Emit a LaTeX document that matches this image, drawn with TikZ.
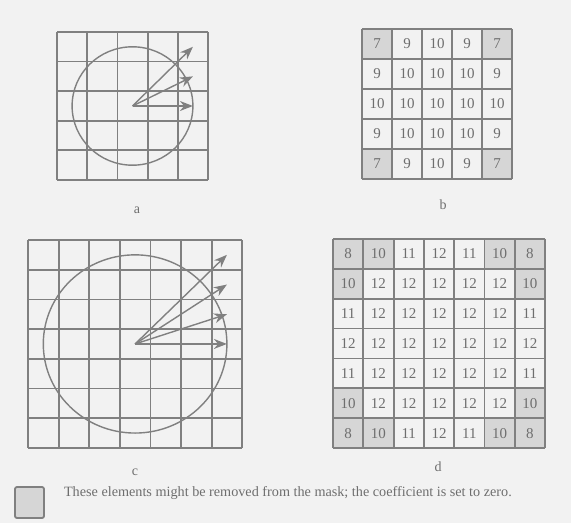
\documentclass[tikz,border=0pt]{standalone}
\usepackage{fontspec}
\setmainfont{Liberation Serif}
\usetikzlibrary{arrows.meta}

\definecolor{paper}{RGB}{242,242,242}
\definecolor{gridgray}{RGB}{128,128,128}
\definecolor{maskgray}{RGB}{214,214,214}
\definecolor{inkgray}{RGB}{110,110,110}

\tikzset{
  gridline/.style={draw=gridgray, line width=0.9pt},
  circline/.style={draw=gridgray, line width=0.7pt},
  vec/.style={draw=gridgray, line width=0.7pt, -{Stealth[length=6.5pt,width=5pt]}},
  masked/.style={fill=maskgray},
  val/.style={text=inkgray, font=\fontsize{7.5}{9}\selectfont},
  panel/.style={text=inkgray, font=\fontsize{7}{8}\selectfont},
}

\begin{document}
\begin{tikzpicture}[x=0.5pt,y=-0.5pt]

\fill[paper] (0,0) rectangle (571,523);
\useasboundingbox (0,0) rectangle (571,523);

% a: 5x5 mask with circle
\begin{scope}[shift={(57,32)}, x=15.1pt, y=-14.8pt]
\foreach \i in {0,...,5} {
    \draw[gridline] (\i,0) -- (\i,5);
    \draw[gridline] (0,\i) -- (5,\i);
}
\coordinate (ac) at (2.5,2.5);
\draw[circline] (ac) circle[radius=2];
\foreach \k in {0,1,2} {
    \coordinate (ae\k) at (4.5,{2.5-\k});
    \draw[vec] (ac) -- (ae\k);
}
\end{scope}
\node[panel] (la) at (137,210) {a};

% b: 5x5 coefficients
\begin{scope}[shift={(362,29)}, x=15pt, y=-15pt]
\foreach \c/\r in {0/0, 4/0, 0/4, 4/4}
    \fill[masked] (\c,\r) rectangle ++(1,1);
\foreach \i in {0,...,5} {
    \draw[gridline] (\i,0) -- (\i,5);
    \draw[gridline] (0,\i) -- (5,\i);
}
\foreach \row [count=\r from 0] in {{7,9,10,9,7},{9,10,10,10,9},{10,10,10,10,10},{9,10,10,10,9},{7,9,10,9,7}} {
    \foreach \v [count=\c from 0] in \row
        \node[val] (b\r\c) at (\c+0.5,\r+0.5) {\v};
}
\end{scope}
\node[panel] (lb) at (443,205) {b};

% c: 7x7 mask with circle
\begin{scope}[shift={(28,240)}, x=15.3pt, y=-14.85pt]
\foreach \i in {0,...,7} {
    \draw[gridline] (\i,0) -- (\i,7);
    \draw[gridline] (0,\i) -- (7,\i);
}
\coordinate (cc) at (3.5,3.5);
\draw[circline] (cc) circle[radius=3];
\foreach \k in {0,1,2,3} {
    \coordinate (ce\k) at (6.5,{3.5-\k});
    \draw[vec] (cc) -- (ce\k);
}
\end{scope}
\node[panel] (lc) at (135,472) {c};

% d: 7x7 coefficients
\begin{scope}[shift={(333,239)}, x=15.15pt, y=-14.93pt]
\foreach \c/\r in {0/0, 1/0, 0/1, 5/0, 6/0, 6/1, 0/5, 0/6, 1/6, 5/6, 6/6, 6/5}
    \fill[masked] (\c,\r) rectangle ++(1,1);
\foreach \i in {0,...,7} {
    \draw[gridline] (\i,0) -- (\i,7);
    \draw[gridline] (0,\i) -- (7,\i);
}
\foreach \row [count=\r from 0] in {{8,10,11,12,11,10,8},{10,12,12,12,12,12,10},{11,12,12,12,12,12,11},{12,12,12,12,12,12,12},{11,12,12,12,12,12,11},{10,12,12,12,12,12,10},{8,10,11,12,11,10,8}} {
    \foreach \v [count=\c from 0] in \row
        \node[val] (d\r\c) at (\c+0.5,\r+0.5) {\v};
}
\end{scope}
\node[panel] (ld) at (438,467) {d};

% legend
\draw[gridline, masked, rounded corners=1pt] (15,487) rectangle (44,518);
\node[anchor=west, text=inkgray, font=\fontsize{7.1}{8}\selectfont] (key) at (57,493)
    {These elements might be removed from the mask; the coefficient is set to zero.};

\end{tikzpicture}
\end{document}
